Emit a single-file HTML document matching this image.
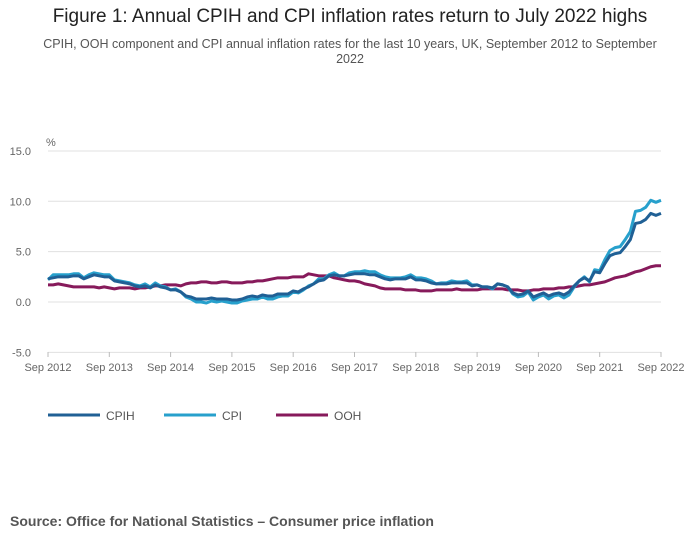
<!DOCTYPE html>
<html><head><meta charset="utf-8"><style>
body{margin:0;background:#fff;font-family:"Liberation Sans",sans-serif;}
#wrap{position:relative;width:700px;height:549px;overflow:hidden;}
.t{position:absolute;left:0;width:700px;text-align:center;}
</style></head><body>
<div id="wrap">
<div class="t" style="top:6px;font-size:19px;color:#222;">Figure 1: Annual CPIH and CPI inflation rates return to July 2022 highs</div>
<div class="t" style="top:37px;font-size:12.5px;color:#555;line-height:15px;left:20px;width:660px;">CPIH, OOH component and CPI annual inflation rates for the last 10 years, UK, September 2012 to September<br>2022</div>
<svg id="chart" width="700" height="549" style="position:absolute;left:0;top:0"></svg>
<div style="position:absolute;left:10px;top:513px;font-size:14px;font-weight:bold;color:#555;">Source: Office for National Statistics – Consumer price inflation</div>
</div>
<script>
const xLabels=["Sep 2012","Sep 2013","Sep 2014","Sep 2015","Sep 2016","Sep 2017","Sep 2018","Sep 2019","Sep 2020","Sep 2021","Sep 2022"];
const yTicks=[15,10,5,0,-5];
const cpih=[2.3,2.4,2.5,2.5,2.5,2.6,2.6,2.3,2.5,2.7,2.6,2.5,2.5,2.1,2.0,1.9,1.8,1.6,1.5,1.6,1.4,1.7,1.5,1.4,1.2,1.2,1.0,0.6,0.5,0.3,0.3,0.3,0.4,0.3,0.3,0.3,0.2,0.2,0.3,0.5,0.6,0.5,0.7,0.6,0.6,0.8,0.8,0.8,1.1,1.0,1.3,1.5,1.8,2.1,2.2,2.6,2.7,2.6,2.6,2.7,2.8,2.8,2.8,2.7,2.7,2.5,2.3,2.2,2.3,2.3,2.3,2.5,2.2,2.2,2.1,1.9,1.8,1.8,1.8,1.9,1.9,1.9,1.9,1.6,1.7,1.5,1.5,1.4,1.8,1.7,1.5,0.9,0.7,0.8,1.1,0.5,0.7,0.9,0.6,0.8,0.9,0.7,1.0,1.6,2.1,2.4,2.1,3.0,2.9,3.8,4.6,4.8,4.9,5.5,6.2,7.8,7.9,8.2,8.8,8.6,8.8];
const cpi=[2.2,2.7,2.7,2.7,2.7,2.8,2.8,2.4,2.7,2.9,2.8,2.7,2.7,2.2,2.1,2.0,1.9,1.7,1.6,1.8,1.5,1.9,1.6,1.5,1.2,1.3,1.0,0.5,0.3,0.0,0.0,-0.1,0.1,0.0,0.1,0.0,-0.1,-0.1,0.1,0.2,0.3,0.3,0.5,0.3,0.3,0.5,0.6,0.6,1.0,0.9,1.2,1.6,1.8,2.3,2.3,2.7,2.9,2.6,2.6,2.9,3.0,3.0,3.1,3.0,3.0,2.7,2.5,2.4,2.4,2.4,2.5,2.7,2.4,2.4,2.3,2.1,1.8,1.9,1.9,2.1,2.0,2.0,2.1,1.7,1.7,1.5,1.5,1.3,1.8,1.7,1.5,0.8,0.5,0.6,1.0,0.2,0.5,0.7,0.3,0.6,0.7,0.4,0.7,1.5,2.1,2.5,2.0,3.2,3.1,4.2,5.1,5.4,5.5,6.2,7.0,9.0,9.1,9.4,10.1,9.9,10.1];
const ooh=[1.7,1.7,1.8,1.7,1.6,1.5,1.5,1.5,1.5,1.5,1.4,1.5,1.4,1.3,1.4,1.4,1.4,1.3,1.4,1.4,1.5,1.6,1.6,1.7,1.7,1.7,1.6,1.8,1.9,1.9,2.0,2.0,1.9,1.9,2.0,2.0,1.9,1.9,1.9,2.0,2.0,2.1,2.1,2.2,2.3,2.4,2.4,2.4,2.5,2.5,2.5,2.8,2.7,2.6,2.6,2.6,2.4,2.3,2.2,2.1,2.1,2.0,1.8,1.7,1.6,1.4,1.3,1.3,1.3,1.3,1.2,1.2,1.2,1.1,1.1,1.1,1.2,1.2,1.2,1.2,1.3,1.2,1.2,1.2,1.2,1.3,1.3,1.3,1.3,1.3,1.2,1.2,1.2,1.1,1.1,1.2,1.2,1.3,1.3,1.3,1.4,1.4,1.5,1.5,1.6,1.7,1.7,1.8,1.9,2.0,2.2,2.4,2.5,2.6,2.8,3.0,3.1,3.3,3.5,3.6,3.6];
const NS="http://www.w3.org/2000/svg";
const svg=document.getElementById('chart');
const X0=48,X1=661,Y0=302,PU=10.07;
const x=i=>X0+(X1-X0)*i/120;
const y=v=>Y0-v*PU;
function mk(t,a){const e=document.createElementNS(NS,t);for(const k in a)e.setAttribute(k,a[k]);svg.appendChild(e);return e;}
yTicks.forEach(v=>{
 const g=mk('line',{x1:X0,x2:X1,y1:y(v),y2:y(v),stroke:'#e0e0e0','stroke-width':1});
 
 
 const t=mk('text',{x:31,y:y(v)+4,'text-anchor':'end','font-size':11,fill:'#666','font-family':'Liberation Sans,sans-serif'});
 t.textContent=v.toFixed(1);
 
 
});
const pct=mk('text',{x:46,y:146,'font-size':11,fill:'#666','font-family':'Liberation Sans,sans-serif'});pct.textContent='%';


xLabels.forEach((l,i)=>{
 const xx=x(i*12);
 const tk=mk('line',{x1:xx,x2:xx,y1:352,y2:357,stroke:'#bbb'});
 
 
 const t=mk('text',{x:xx,y:371,'text-anchor':'middle','font-size':11,fill:'#666','font-family':'Liberation Sans,sans-serif'});
 t.textContent=l;
 
 
});
function line(d,c,n){
 const p=mk('polyline',{points:d.map((v,i)=>x(i)+','+y(v)).join(' '),fill:'none',stroke:c,'stroke-width':3,'stroke-linejoin':'round'});
 
 
}
line(ooh,'#871a5b','ooh-line');
line(cpi,'#27a0cc','cpi-line');
line(cpih,'#206095','cpih-line');
[['CPIH','#206095',48],['CPI','#27a0cc',164],['OOH','#871a5b',276]].forEach(([n,c,lx])=>{
 const l=mk('line',{x1:lx,x2:lx+52,y1:415,y2:415,stroke:c,'stroke-width':3});
 
 
 const t=mk('text',{x:lx+58,y:420,'font-size':12,fill:'#555','font-family':'Liberation Sans,sans-serif'});
 t.textContent=n;
 
 
});
</script>
</body></html>
